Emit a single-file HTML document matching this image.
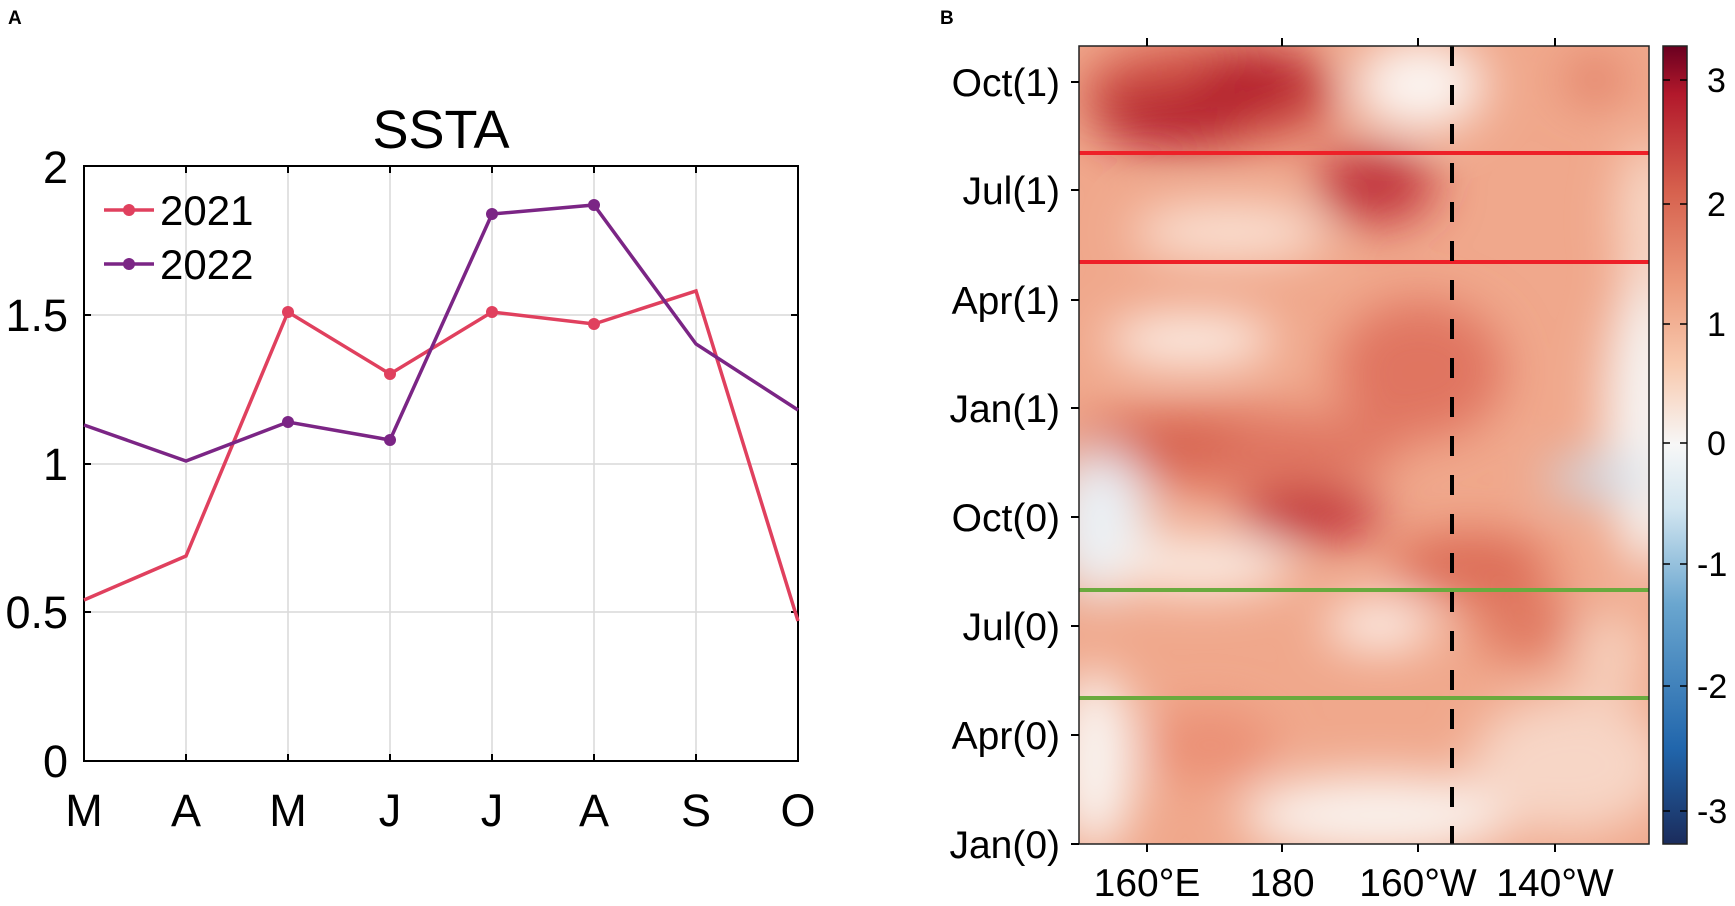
<!DOCTYPE html>
<html><head><meta charset="utf-8"><style>
html,body{margin:0;padding:0;background:#fff;}
svg{display:block;font-family:"Liberation Sans",Arial,sans-serif;}
</style></head><body>
<svg width="1735" height="906" viewBox="0 0 1735 906" xmlns="http://www.w3.org/2000/svg">
<defs>
<filter id="bl" x="-20%" y="-20%" width="140%" height="140%"><feGaussianBlur stdDeviation="24"/></filter>
<clipPath id="hc"><rect x="1079" y="46" width="570" height="798"/></clipPath>
<linearGradient id="cb" x1="0" y1="1" x2="0" y2="0">
<stop offset="0" stop-color="#1b2c5c"/>
<stop offset="0.12" stop-color="#2166ac"/>
<stop offset="0.3" stop-color="#6aa6cf"/>
<stop offset="0.42" stop-color="#d1e5f0"/>
<stop offset="0.5" stop-color="#f7f7f7"/>
<stop offset="0.6" stop-color="#f8c9ae"/>
<stop offset="0.7" stop-color="#ec9a7c"/>
<stop offset="0.82" stop-color="#d6604d"/>
<stop offset="0.94" stop-color="#b2182b"/>
<stop offset="1" stop-color="#6a0020"/>
</linearGradient>
</defs>

<text x="8" y="24" font-size="19" font-weight="bold">A</text>
<text x="940" y="24" font-size="19" font-weight="bold">B</text>

<!-- Panel A -->
<text x="441" y="148" font-size="54" text-anchor="middle">SSTA</text>
<g stroke="#d9d9d9" stroke-width="1.5">
<line x1="186" y1="166" x2="186" y2="761"/><line x1="288" y1="166" x2="288" y2="761"/>
<line x1="390" y1="166" x2="390" y2="761"/><line x1="492" y1="166" x2="492" y2="761"/>
<line x1="594" y1="166" x2="594" y2="761"/><line x1="696" y1="166" x2="696" y2="761"/>
<line x1="84" y1="612" x2="798" y2="612"/><line x1="84" y1="464" x2="798" y2="464"/>
<line x1="84" y1="315" x2="798" y2="315"/>
</g>
<rect x="84" y="166" width="714" height="595" fill="none" stroke="#000" stroke-width="2"/>
<g stroke="#000" stroke-width="2">
<line x1="186" y1="761" x2="186" y2="754"/><line x1="288" y1="761" x2="288" y2="754"/><line x1="390" y1="761" x2="390" y2="754"/><line x1="492" y1="761" x2="492" y2="754"/><line x1="594" y1="761" x2="594" y2="754"/><line x1="696" y1="761" x2="696" y2="754"/>
<line x1="186" y1="166" x2="186" y2="173"/><line x1="288" y1="166" x2="288" y2="173"/><line x1="390" y1="166" x2="390" y2="173"/><line x1="492" y1="166" x2="492" y2="173"/><line x1="594" y1="166" x2="594" y2="173"/><line x1="696" y1="166" x2="696" y2="173"/>
<line x1="84" y1="612" x2="91" y2="612"/><line x1="84" y1="464" x2="91" y2="464"/><line x1="84" y1="315" x2="91" y2="315"/>
<line x1="798" y1="612" x2="791" y2="612"/><line x1="798" y1="464" x2="791" y2="464"/><line x1="798" y1="315" x2="791" y2="315"/>
</g>
<g font-size="45" text-anchor="end">
<text x="68" y="777">0</text><text x="68" y="628">0.5</text><text x="68" y="480">1</text><text x="68" y="331">1.5</text><text x="68" y="183">2</text>
</g>
<g font-size="45" text-anchor="middle">
<text x="84" y="826">M</text><text x="186" y="826">A</text><text x="288" y="826">M</text><text x="390" y="826">J</text><text x="492" y="826">J</text><text x="594" y="826">A</text><text x="696" y="826">S</text><text x="798" y="826">O</text>
</g>
<polyline fill="none" stroke="#e0405e" stroke-width="3.5" points="84,600 186,556 288,312 390,374 492,312 594,324 696,291 798,621"/>
<polyline fill="none" stroke="#7b2585" stroke-width="3.5" points="84,425 186,461 288,422 390,440 492,214 594,205 696,344 798,410"/>
<g fill="#e0405e"><circle cx="288" cy="312" r="6"/><circle cx="390" cy="374" r="6"/><circle cx="492" cy="312" r="6"/><circle cx="594" cy="324" r="6"/></g>
<g fill="#7b2585"><circle cx="288" cy="422" r="6"/><circle cx="390" cy="440" r="6"/><circle cx="492" cy="214" r="6"/><circle cx="594" cy="205" r="6"/></g>
<line x1="104" y1="210" x2="154" y2="210" stroke="#e0405e" stroke-width="3.5"/><circle cx="129" cy="210" r="6" fill="#e0405e"/>
<text x="160" y="225" font-size="42">2021</text>
<line x1="104" y1="264" x2="154" y2="264" stroke="#7b2585" stroke-width="3.5"/><circle cx="129" cy="264" r="6" fill="#7b2585"/>
<text x="160" y="279" font-size="42">2022</text>

<!-- Panel B heatmap -->
<g clip-path="url(#hc)">
<rect x="1079" y="46" width="570" height="798" fill="#f0a88c"/>
<g filter="url(#bl)">
<ellipse cx="1210" cy="95" rx="130" ry="55" fill="#d2544a"/>
<ellipse cx="1170" cy="118" rx="75" ry="28" fill="#b2182b"/>
<ellipse cx="1260" cy="82" rx="60" ry="30" fill="#b2182b"/>
<ellipse cx="1420" cy="85" rx="65" ry="45" fill="#fbf5f2"/>
<ellipse cx="1595" cy="80" rx="30" ry="22" fill="#e07a62"/>
<ellipse cx="1375" cy="185" rx="60" ry="38" fill="#c0303a"/>
<ellipse cx="1230" cy="232" rx="100" ry="26" fill="#fbe6da"/>
<ellipse cx="1650" cy="220" rx="30" ry="80" fill="#f8dccc"/>
<ellipse cx="1190" cy="340" rx="85" ry="24" fill="#fdf4ee"/>
<ellipse cx="1420" cy="370" rx="85" ry="70" fill="#e07560"/>
<ellipse cx="1650" cy="420" rx="45" ry="150" fill="#f6f3f1"/>
<ellipse cx="1600" cy="478" rx="55" ry="18" fill="#c9dcec"/>
<ellipse cx="1230" cy="450" rx="170" ry="40" fill="#df7560"/>
<ellipse cx="1160" cy="440" rx="80" ry="25" fill="#d6604d"/>
<ellipse cx="1310" cy="515" rx="75" ry="26" fill="#c02a35"/>
<ellipse cx="1470" cy="565" rx="80" ry="32" fill="#dc6a55"/>
<ellipse cx="1100" cy="525" rx="50" ry="75" fill="#eaf0f5"/>
<ellipse cx="1200" cy="565" rx="95" ry="28" fill="#fbeee6"/>
<ellipse cx="1380" cy="625" rx="55" ry="24" fill="#fdf3ee"/>
<ellipse cx="1525" cy="625" rx="50" ry="35" fill="#e07860"/>
<ellipse cx="1610" cy="655" rx="35" ry="45" fill="#f6d0bd"/>
<ellipse cx="1095" cy="760" rx="40" ry="90" fill="#f9f4f1"/>
<ellipse cx="1380" cy="815" rx="140" ry="40" fill="#faf2ed"/>
<ellipse cx="1210" cy="745" rx="65" ry="35" fill="#eb8f74"/>
<ellipse cx="1570" cy="765" rx="100" ry="70" fill="#f7d6c6"/>
</g>
</g>
<line x1="1079" y1="153" x2="1649" y2="153" stroke="#ee2028" stroke-width="4"/>
<line x1="1079" y1="262" x2="1649" y2="262" stroke="#ee2028" stroke-width="4"/>
<line x1="1079" y1="590" x2="1649" y2="590" stroke="#6aaa3e" stroke-width="4"/>
<line x1="1079" y1="698" x2="1649" y2="698" stroke="#6aaa3e" stroke-width="4"/>
<line x1="1452" y1="46" x2="1452" y2="844" stroke="#000" stroke-width="4" stroke-dasharray="20,19"/>
<rect x="1079" y="46" width="570" height="798" fill="none" stroke="#222" stroke-width="1.5"/>
<g stroke="#000" stroke-width="2">
<line x1="1147" y1="46" x2="1147" y2="38"/><line x1="1282" y1="46" x2="1282" y2="38"/><line x1="1418" y1="46" x2="1418" y2="38"/><line x1="1555" y1="46" x2="1555" y2="38"/>
<line x1="1147" y1="844" x2="1147" y2="852"/><line x1="1282" y1="844" x2="1282" y2="852"/><line x1="1418" y1="844" x2="1418" y2="852"/><line x1="1555" y1="844" x2="1555" y2="852"/>
<line x1="1079" y1="82" x2="1071" y2="82"/><line x1="1079" y1="190" x2="1071" y2="190"/><line x1="1079" y1="300" x2="1071" y2="300"/><line x1="1079" y1="408" x2="1071" y2="408"/><line x1="1079" y1="517" x2="1071" y2="517"/><line x1="1079" y1="626" x2="1071" y2="626"/><line x1="1079" y1="735" x2="1071" y2="735"/><line x1="1079" y1="844" x2="1071" y2="844"/>
</g>
<g font-size="39" text-anchor="end">
<text x="1060" y="96">Oct(1)</text><text x="1060" y="204">Jul(1)</text><text x="1060" y="314">Apr(1)</text><text x="1060" y="422">Jan(1)</text><text x="1060" y="531">Oct(0)</text><text x="1060" y="640">Jul(0)</text><text x="1060" y="749">Apr(0)</text><text x="1060" y="858">Jan(0)</text>
</g>
<g font-size="39" text-anchor="middle">
<text x="1147" y="896">160°E</text><text x="1282" y="896">180</text><text x="1418" y="896">160°W</text><text x="1555" y="896">140°W</text>
</g>
<rect x="1663" y="46" width="24" height="798" fill="url(#cb)" stroke="#222" stroke-width="1.5"/>
<g stroke="#000" stroke-width="1.5">
<line x1="1680" y1="80" x2="1687" y2="80"/><line x1="1680" y1="204" x2="1687" y2="204"/><line x1="1680" y1="324" x2="1687" y2="324"/><line x1="1680" y1="443" x2="1687" y2="443"/><line x1="1680" y1="564" x2="1687" y2="564"/><line x1="1680" y1="686" x2="1687" y2="686"/><line x1="1680" y1="811" x2="1687" y2="811"/>
<line x1="1663" y1="80" x2="1670" y2="80"/><line x1="1663" y1="204" x2="1670" y2="204"/><line x1="1663" y1="324" x2="1670" y2="324"/><line x1="1663" y1="443" x2="1670" y2="443"/><line x1="1663" y1="564" x2="1670" y2="564"/><line x1="1663" y1="686" x2="1670" y2="686"/><line x1="1663" y1="811" x2="1670" y2="811"/>
</g>
<g font-size="34">
<text x="1707" y="92">3</text><text x="1707" y="216">2</text><text x="1707" y="336">1</text><text x="1707" y="455">0</text><text x="1697" y="576">-1</text><text x="1697" y="698">-2</text><text x="1697" y="823">-3</text>
</g>
</svg>
</body></html>
